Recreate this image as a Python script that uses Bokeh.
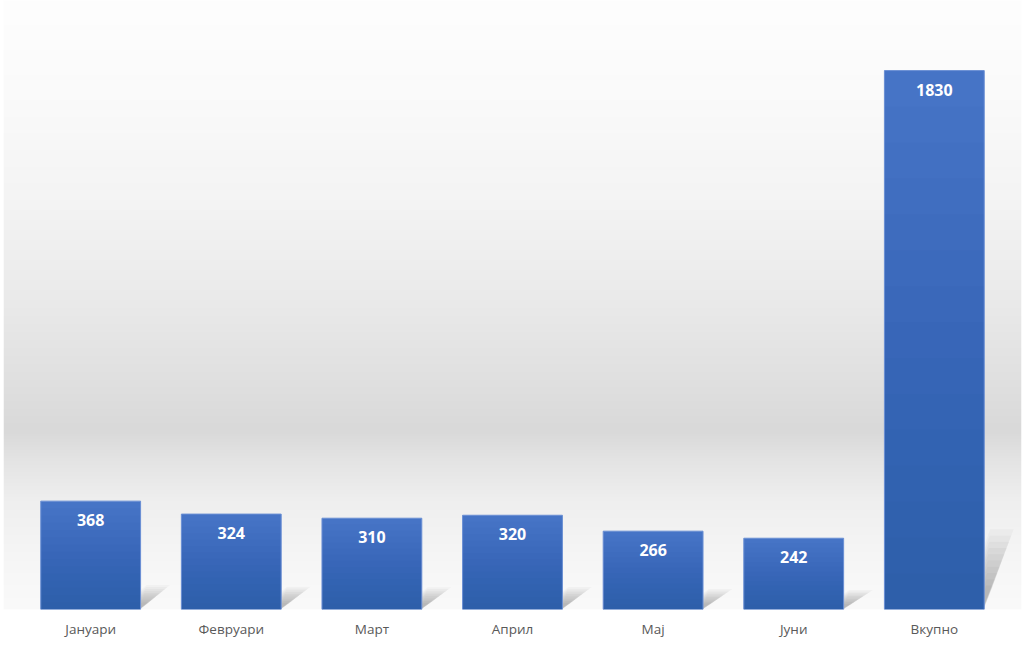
import numpy as np
from bokeh.plotting import figure
from bokeh.models import Range1d, ColumnDataSource, FixedTicker
from bokeh.core.properties import value
from bokeh.embed import file_html
from bokeh.resources import INLINE

# ---- data ----
months = ["Јануари", "Февруари", "Март", "Април", "Мај", "Јуни", "Вкупно"]
counts = [368, 324, 310, 320, 266, 242, 1830]
labels = [str(c) for c in counts]

# ---- styling constants ----
BAR_W = 0.71
PAD = 0.12
Y_END = 2068
FRAME_H = 609
n = len(months)
pos = [i + 0.5 for i in range(n)]  # category slot centres

p = figure(
    x_range=Range1d(-PAD, n + PAD),
    y_range=Range1d(0, Y_END),
    width=1024, height=648,
    output_backend="svg", toolbar_location=None, y_axis_location=None,
    min_border_left=3, min_border_right=3, min_border_top=0, min_border_bottom=39,
)
p.background_fill_color = "white"
p.border_fill_color = "white"
p.outline_line_color = None
p.xgrid.grid_line_color = None
p.ygrid.grid_line_color = None

# ---- background vertical gradient (decorative) ----
stop_page_y = [0, 100, 200, 300, 380, 430, 460, 500, 560, 609]
stop_gray = [254, 250, 244, 234, 224, 217, 228, 239, 246, 250]
rows = np.arange(FRAME_H)
page_y = FRAME_H - (rows + 0.5)
gray = np.interp(page_y, stop_page_y, stop_gray).astype(np.uint8)
img = np.zeros((FRAME_H, 2), dtype=np.uint32)
view = img.view(dtype=np.uint8).reshape((FRAME_H, 2, 4))
view[:, :, 0] = gray[:, None]
view[:, :, 1] = gray[:, None]
view[:, :, 2] = gray[:, None]
view[:, :, 3] = 255
p.image_rgba(image=[img], x=-PAD, y=0, dw=n + 2 * PAD, dh=Y_END)

# ---- soft shadows to the right of each bar ----
rights = [x + BAR_W / 2 for x in pos]
for k in np.linspace(1.0, 0.3, 10):
    xs, ys = [], []
    for r, c in zip(rights, counts):
        dy = (0.13 * c + 35) * k
        dx = 0.21 * k
        xs.append([r, r + dx, r + 0.2 * dx, r])
        ys.append([0.05 * dy, dy, dy, 0.8 * dy])
    p.patches(xs=xs, ys=ys, fill_color="black", fill_alpha=0.028, line_color=None)

# ---- bars with vertical gradient ----
src = ColumnDataSource(dict(x=pos, month=months, count=counts, label=labels))
p.vbar(x="x", top="count", width=BAR_W, source=src,
       fill_color="#4674c6", line_color=None)
L = 14
a = 1 - 0.75 ** (1 / L)
for j in range(1, L + 1):
    frac = j / (L + 1)
    p.vbar(x=pos, top=[c * frac for c in counts], width=BAR_W,
           fill_color="#0b2260", fill_alpha=a, line_color=None)
p.vbar(x="x", top="count", width=BAR_W, source=src,
       fill_color=None, line_color="#6a8fd4", line_width=1)

# ---- value labels ----
p.text(x="x", y="count", text="label", source=src,
       text_color="white", text_font=value("Open Sans"), text_font_style="bold",
       text_font_size="16px", text_align="center", text_baseline="middle", y_offset=19)

# ---- axis (category labels) ----
p.xaxis.ticker = FixedTicker(ticks=pos)
p.xaxis.major_label_overrides = {x: m for x, m in zip(pos, months)}
p.xaxis.axis_line_color = None
p.xaxis.major_tick_line_color = None
p.xaxis.minor_tick_line_color = None
p.xaxis.major_tick_out = 0
p.xaxis.major_tick_in = 0
p.xaxis.major_label_text_font = "Open Sans"
p.xaxis.major_label_text_font_size = "13.5px"
p.xaxis.major_label_text_color = "#595959"
p.xaxis.major_label_standoff = 10

open("out.html", "w").write(file_html(p, INLINE))
